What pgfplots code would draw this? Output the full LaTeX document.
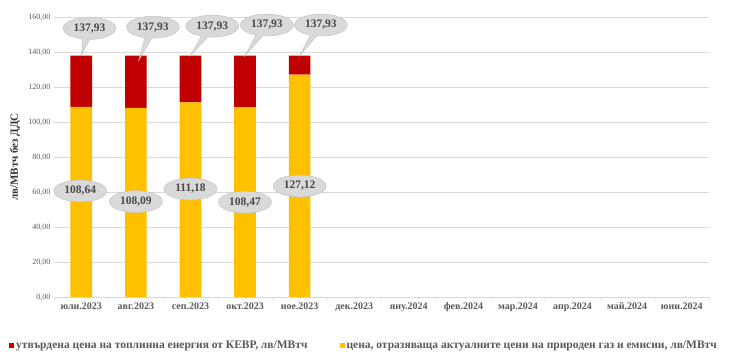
\documentclass[border=0pt]{standalone}
\usepackage{pgfplots}
\pgfplotsset{compat=1.18}
\usepackage{fontspec}
\setmainfont{Liberation Serif}
\usetikzlibrary{shapes.callouts,shapes.geometric}
\definecolor{cred}{HTML}{C00000}
\definecolor{cyel}{HTML}{FFC000}
\definecolor{tgray}{HTML}{595959}
\definecolor{cfill}{HTML}{D9D9D9}
\definecolor{cdraw}{HTML}{BFBFBF}
\definecolor{gridc}{HTML}{D9D9D9}
\begin{document}
\begin{tikzpicture}
\useasboundingbox (-54pt,-59pt) rectangle (676pt,297pt);
\begin{axis}[
  scale only axis,
  width=655pt, height=280pt,
  ybar stacked,
  bar width=21.6pt,
  xmin=-0.5, xmax=11.5,
  ymin=0, ymax=160,
  ytick={0,20,...,160},
  xtick={0,...,11},
  xticklabels={юли.2023,авг.2023,сеп.2023,окт.2023,ное.2023,дек.2023,яну.2024,фев.2024,мар.2024,апр.2024,май.2024,юни.2024},
  minor xtick={-0.5,0.5,...,11.5},
  major tick length=0pt,
  minor tick length=3pt,
  tick align=outside,
  minor tick style={draw=gridc},
  xticklabel style={font=\bfseries\fontsize{10}{12}\selectfont, text=tgray, yshift=-2pt},
  yticklabel style={font=\fontsize{8}{10}\selectfont, text=tgray},
  /pgf/number format/assume math mode=true,
  yticklabel={\pgfmathprintnumber[fixed,fixed zerofill,precision=2,use comma]{\tick}},
  ymajorgrids,
  grid style={draw=gridc, line width=0.8pt},
  axis line style={draw=none},
  axis x line*=bottom,
  x axis line style={draw=gridc, line width=0.8pt},
  axis y line*=left,
  y axis line style={draw=none},
  ylabel={лв/МВтч без ДДС},
  ylabel style={font=\bfseries\fontsize{11}{13}\selectfont, text=black!80, at={(axis description cs:-0.0595,0.5)}, anchor=center},
  legend columns=2,
  legend style={draw=none, fill=none, at={(0,0)}, anchor=north west, xshift=-48pt, yshift=-40pt,
     font=\bfseries\fontsize{11.5}{13}\selectfont, text=tgray,
     /tikz/every even column/.append style={column sep=30pt}},
  legend image code/.code={\fill[#1] (0pt,-2.5pt) rectangle (5pt,2.5pt);},
  legend cell align=left,
  reverse legend,
  clip=false,
]
\addplot[fill=cyel, draw=none] coordinates {(0,108.64) (1,108.09) (2,111.18) (3,108.47) (4,127.12)};
\addlegendentry{цена, отразяваща актуалните  цени на природен газ и емисии, лв/МВтч}
\addplot[fill=cred, draw=none] coordinates {(0,29.29) (1,29.84) (2,26.75) (3,29.46) (4,10.81)};
\addlegendentry{утвърдена цена на топлинна енергия от КЕВР, лв/МВтч}

\coordinate (t0) at (axis cs:0,137.93);
\coordinate (t1) at (axis cs:1.05,135);
\coordinate (t2) at (axis cs:2,137.93);
\coordinate (t3) at (axis cs:3,137.93);
\coordinate (t4) at (axis cs:4,137.93);
\coordinate (c0) at (axis cs:0.15,153.5);
\coordinate (c1) at (axis cs:1.31,154.2);
\coordinate (c2) at (axis cs:2.4,154.8);
\coordinate (c3) at (axis cs:3.4,155.4);
\coordinate (c4) at (axis cs:4.39,155.4);
\coordinate (b0) at (axis cs:-0.02,60.6);
\coordinate (b1) at (axis cs:1.0,54.5);
\coordinate (b2) at (axis cs:2.0,61.7);
\coordinate (b3) at (axis cs:3.0,54.2);
\coordinate (b4) at (axis cs:4.0,63.4);
\end{axis}
\tikzset{lab/.style={fill=cfill, draw=cdraw, text=tgray!80!black, font=\bfseries\fontsize{11.5}{13}\selectfont, minimum width=53pt, minimum height=22pt, inner sep=0pt}}
\foreach \i in {0,...,4} {
  \node[lab, ellipse callout, callout absolute pointer={(t\i)}] at (c\i) {137,93};
}
\node[lab, ellipse] at (b0) {108,64};
\node[lab, ellipse] at (b1) {108,09};
\node[lab, ellipse] at (b2) {111,18};
\node[lab, ellipse] at (b3) {108,47};
\node[lab, ellipse] at (b4) {127,12};
\end{tikzpicture}
\end{document}
